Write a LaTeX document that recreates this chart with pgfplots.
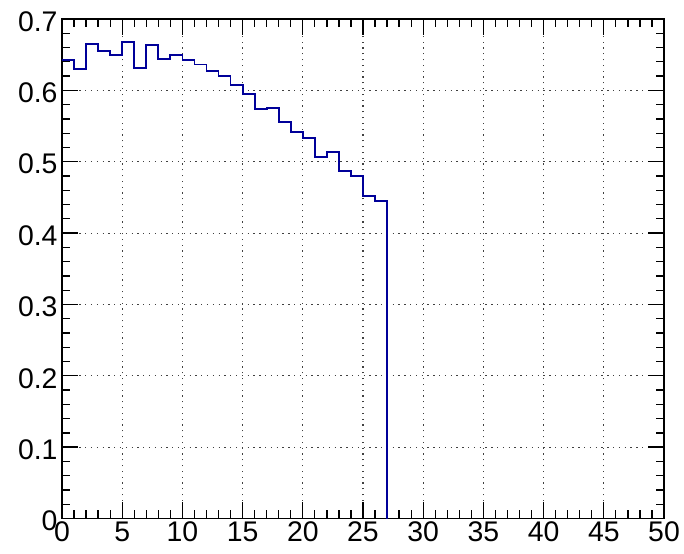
\documentclass[border=0pt]{standalone}
\usepackage{pgfplots}
\pgfplotsset{compat=1.18}
\usepackage{fontspec}
\setmainfont{Liberation Sans}
\definecolor{histblue}{RGB}{0,0,153}
\begin{document}
\begin{tikzpicture}
\path[use as bounding box] (-62bp,-35.5bp) rectangle (622bp,518.5bp);
\begin{axis}[
  at={(0,0)}, anchor=south west,
  scale only axis, width=602bp, height=499.5bp,
  xmin=0, xmax=50, ymin=0, ymax=0.7,
  xtick={0,5,...,50}, ytick={0,0.1,0.2,0.3,0.4,0.5,0.6,0.7},
  minor x tick num=4, minor y tick num=4,
  tick align=inside,
  major tick length=16bp, minor tick length=8bp,
  axis line style={line width=1.8bp, black},
  every tick/.style={line width=1.3bp, black},
  grid=major,
  major grid style={black!75, line width=1.1bp, dash pattern=on 1.3bp off 4.5bp},
  tick label style={font=\fontsize{28.5}{28.5}\selectfont},
  /pgf/number format/assume math mode=true,
  yticklabel style={/pgf/number format/fixed, /pgf/number format/precision=1, yshift=-2.5bp, xshift=-1bp},
  clip=false,
]
\addplot[const plot, histblue, line width=1.8bp] coordinates {
(0,0.6425) (1,0.6299) (2,0.6649) (3,0.6556) (4,0.6495) (5,0.6682)
(6,0.6317) (7,0.6635) (8,0.6443) (9,0.6495) (10,0.6425) (11,0.6362)
(12,0.6275) (13,0.6197) (14,0.6079) (15,0.5946) (16,0.5739) (17,0.5757)
(18,0.5552) (19,0.5412) (20,0.5336) (21,0.5062) (22,0.5140) (23,0.4874)
(24,0.4800) (25,0.4524) (26,0.4445) (27,0)
};
\end{axis}
\end{tikzpicture}
\end{document}
